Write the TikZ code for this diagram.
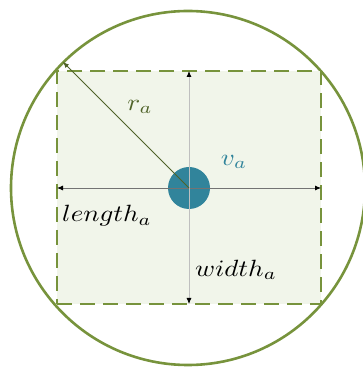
\documentclass[tikz,border=0pt]{standalone}
\usepackage{graphicx}
\usetikzlibrary{arrows.meta}
\definecolor{olivegreen}{HTML}{77933C}
\definecolor{rectfill}{HTML}{F1F5EA}
\definecolor{teal5}{HTML}{31849B}
\definecolor{darkolive}{HTML}{4F6228}
\newcommand{\biglbl}[1]{\scalebox{2.7}[2.35]{#1}}
\begin{document}
\begin{tikzpicture}[x=1pt,y=1pt,
  outer/.style={draw=olivegreen,line width=2.6pt},
  region/.style={draw=olivegreen,fill=rectfill,line width=2.4pt,dash pattern=on 15pt off 8pt},
  bothtips/.style={arrows={Latex[length=6pt,width=5pt,color=black]-Latex[length=6pt,width=5pt,color=black]}},
  axisline/.style={line width=0.8pt},
  lbl/.style={inner sep=0pt}]
\useasboundingbox (0,0) rectangle (363,369);
\begin{scope}
\clip (0,0) rectangle (363,369);
\draw[outer] (188,181) circle (177);
\end{scope}
\node[region,minimum width=264pt,minimum height=233pt,inner sep=0pt] (rect) at (189,181.5) {};
\fill[teal5] (189,181) circle (21);
\coordinate (c) at (189,181);
\coordinate (ltip) at (57,181);
\coordinate (rtip) at (321,181);
\coordinate (ttip) at (189,298);
\coordinate (btip) at (189,65);
\coordinate (rend) at (63,307);
\draw[axisline,draw=black!55,bothtips] (ltip) -- (rtip);
\draw[axisline,draw=black!25,bothtips] (btip) -- (ttip);
\draw[axisline,draw=darkolive,arrows={-Latex[length=6pt,width=5pt]}] (c) -- (rend);
\node[lbl,text=darkolive] (ra) at (140,262) {\biglbl{$r_a$}};
\node[lbl,text=teal5] (va) at (234,207) {\biglbl{$v_a$}};
\node[lbl] (len) at (107,153) {\biglbl{$length_a$}};
\node[lbl] (wid) at (236,99) {\biglbl{$width_a$}};
\end{tikzpicture}
\end{document}
